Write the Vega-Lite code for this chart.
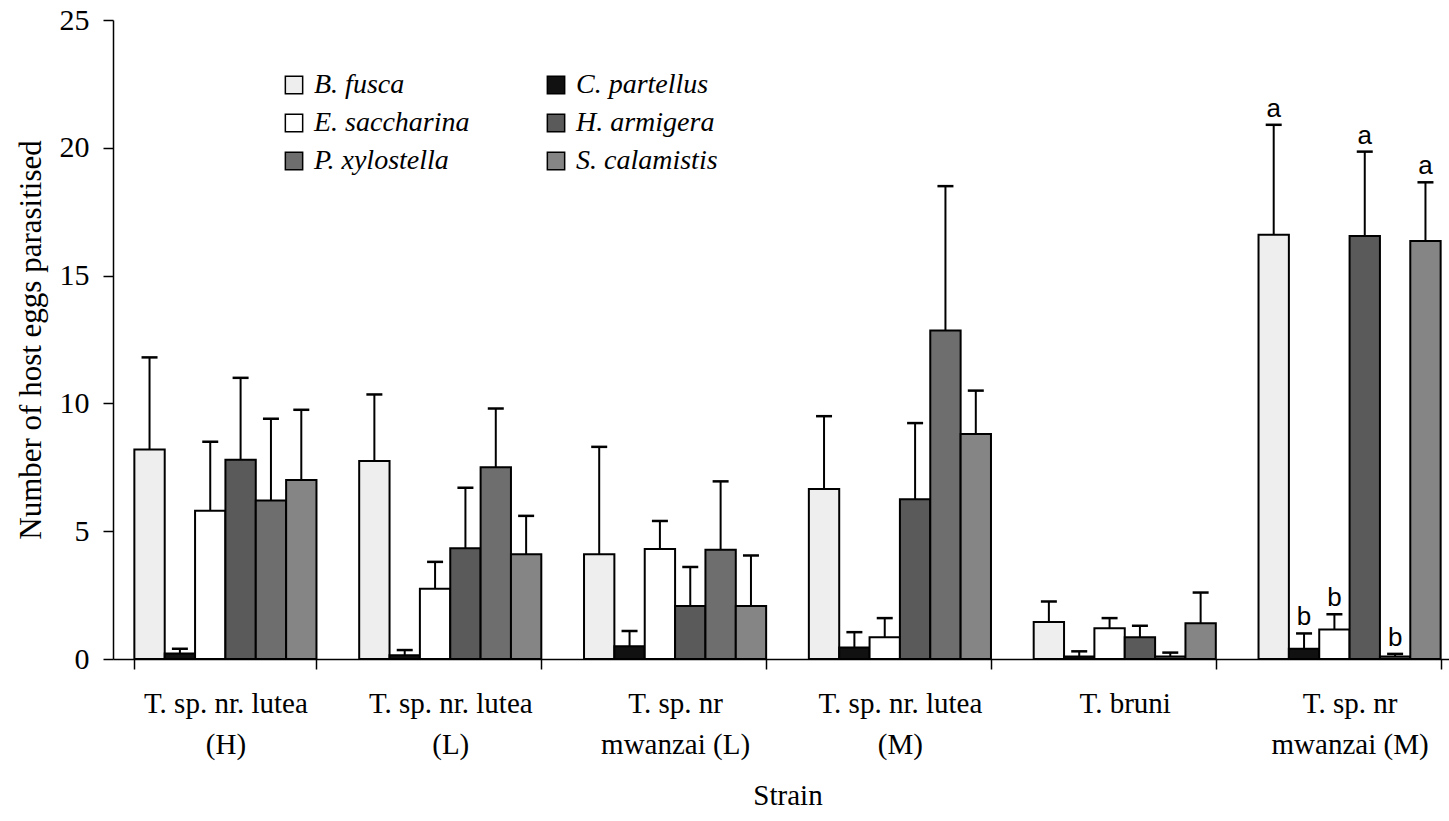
{
  "$schema": "https://vega.github.io/schema/vega-lite/v6.json",
  "width": 1349,
  "height": 639,
  "autosize": {"type": "none"},
  "padding": {"left": 113, "top": 20, "right": 0, "bottom": 162},
  "background": "white",
  "config": {
    "view": {"stroke": null},
    "font": "Liberation Serif",
    "axis": {"domainColor": "black", "tickColor": "black", "labelColor": "black", "titleColor": "black", "grid": false}
  },
  "data": {
    "values": [
      {"strain": "T. sp. nr. lutea|(H)", "host": "B. fusca", "mean": 8.2, "upper": 11.8, "letter": ""},
      {"strain": "T. sp. nr. lutea|(H)", "host": "C. partellus", "mean": 0.22, "upper": 0.4, "letter": ""},
      {"strain": "T. sp. nr. lutea|(H)", "host": "E. saccharina", "mean": 5.8, "upper": 8.5, "letter": ""},
      {"strain": "T. sp. nr. lutea|(H)", "host": "H. armigera", "mean": 7.8, "upper": 11.0, "letter": ""},
      {"strain": "T. sp. nr. lutea|(H)", "host": "P. xylostella", "mean": 6.2, "upper": 9.4, "letter": ""},
      {"strain": "T. sp. nr. lutea|(H)", "host": "S. calamistis", "mean": 7.0, "upper": 9.75, "letter": ""},
      {"strain": "T. sp. nr. lutea|(L)", "host": "B. fusca", "mean": 7.75, "upper": 10.35, "letter": ""},
      {"strain": "T. sp. nr. lutea|(L)", "host": "C. partellus", "mean": 0.15, "upper": 0.35, "letter": ""},
      {"strain": "T. sp. nr. lutea|(L)", "host": "E. saccharina", "mean": 2.75, "upper": 3.8, "letter": ""},
      {"strain": "T. sp. nr. lutea|(L)", "host": "H. armigera", "mean": 4.33, "upper": 6.7, "letter": ""},
      {"strain": "T. sp. nr. lutea|(L)", "host": "P. xylostella", "mean": 7.5, "upper": 9.8, "letter": ""},
      {"strain": "T. sp. nr. lutea|(L)", "host": "S. calamistis", "mean": 4.1, "upper": 5.6, "letter": ""},
      {"strain": "T. sp. nr|mwanzai (L)", "host": "B. fusca", "mean": 4.1, "upper": 8.3, "letter": ""},
      {"strain": "T. sp. nr|mwanzai (L)", "host": "C. partellus", "mean": 0.5, "upper": 1.1, "letter": ""},
      {"strain": "T. sp. nr|mwanzai (L)", "host": "E. saccharina", "mean": 4.3, "upper": 5.4, "letter": ""},
      {"strain": "T. sp. nr|mwanzai (L)", "host": "H. armigera", "mean": 2.07, "upper": 3.6, "letter": ""},
      {"strain": "T. sp. nr|mwanzai (L)", "host": "P. xylostella", "mean": 4.27, "upper": 6.95, "letter": ""},
      {"strain": "T. sp. nr|mwanzai (L)", "host": "S. calamistis", "mean": 2.07, "upper": 4.05, "letter": ""},
      {"strain": "T. sp. nr. lutea|(M)", "host": "B. fusca", "mean": 6.65, "upper": 9.5, "letter": ""},
      {"strain": "T. sp. nr. lutea|(M)", "host": "C. partellus", "mean": 0.45, "upper": 1.05, "letter": ""},
      {"strain": "T. sp. nr. lutea|(M)", "host": "E. saccharina", "mean": 0.85, "upper": 1.6, "letter": ""},
      {"strain": "T. sp. nr. lutea|(M)", "host": "H. armigera", "mean": 6.25, "upper": 9.23, "letter": ""},
      {"strain": "T. sp. nr. lutea|(M)", "host": "P. xylostella", "mean": 12.85, "upper": 18.5, "letter": ""},
      {"strain": "T. sp. nr. lutea|(M)", "host": "S. calamistis", "mean": 8.8, "upper": 10.5, "letter": ""},
      {"strain": "T. bruni", "host": "B. fusca", "mean": 1.45, "upper": 2.25, "letter": ""},
      {"strain": "T. bruni", "host": "C. partellus", "mean": 0.1, "upper": 0.3, "letter": ""},
      {"strain": "T. bruni", "host": "E. saccharina", "mean": 1.2, "upper": 1.6, "letter": ""},
      {"strain": "T. bruni", "host": "H. armigera", "mean": 0.85, "upper": 1.3, "letter": ""},
      {"strain": "T. bruni", "host": "P. xylostella", "mean": 0.1, "upper": 0.25, "letter": ""},
      {"strain": "T. bruni", "host": "S. calamistis", "mean": 1.4, "upper": 2.6, "letter": ""},
      {"strain": "T. sp. nr|mwanzai (M)", "host": "B. fusca", "mean": 16.6, "upper": 20.9, "letter": "a"},
      {"strain": "T. sp. nr|mwanzai (M)", "host": "C. partellus", "mean": 0.4, "upper": 1.0, "letter": "b"},
      {"strain": "T. sp. nr|mwanzai (M)", "host": "E. saccharina", "mean": 1.15, "upper": 1.75, "letter": "b"},
      {"strain": "T. sp. nr|mwanzai (M)", "host": "H. armigera", "mean": 16.55, "upper": 19.85, "letter": "a"},
      {"strain": "T. sp. nr|mwanzai (M)", "host": "P. xylostella", "mean": 0.1, "upper": 0.2, "letter": "b"},
      {"strain": "T. sp. nr|mwanzai (M)", "host": "S. calamistis", "mean": 16.35, "upper": 18.65, "letter": "a"}
    ]
  },
  "encoding": {
    "x": {
      "field": "strain",
      "type": "nominal",
      "sort": ["T. sp. nr. lutea|(H)", "T. sp. nr. lutea|(L)", "T. sp. nr|mwanzai (L)", "T. sp. nr. lutea|(M)", "T. bruni", "T. sp. nr|mwanzai (M)"],
      "scale": {"paddingInner": 0.19, "paddingOuter": 0.095},
      "axis": {
        "title": "Strain",
        "labelExpr": "split(datum.label, '|')",
        "labelAngle": 0,
        "labelFont": "Liberation Serif",
        "labelFontSize": 29,
        "labelLineHeight": 41,
        "labelBaseline": "top",
        "tickBand": "extent",
        "tickSize": 10,
        "labelPadding": 20,
        "domainWidth": 1.5,
        "tickWidth": 1.5,
        "titleFont": "Liberation Serif",
        "titleFontSize": 29,
        "titleFontWeight": "normal",
        "titlePadding": 22
      }
    },
    "xOffset": {"field": "host", "type": "nominal", "scale": {"paddingInner": 0, "paddingOuter": 0}}
  },
  "layer": [
    {
      "mark": {"type": "bar", "stroke": "black", "strokeWidth": 2},
      "encoding": {
        "y": {
          "field": "mean",
          "type": "quantitative",
          "scale": {"domain": [0, 25], "nice": false},
          "axis": {
            "title": "Number of host eggs parasitised",
            "values": [0, 5, 10, 15, 20, 25],
            "tickSize": 10,
            "tickWidth": 1.5,
            "domainWidth": 1.5,
            "labelFont": "Liberation Serif",
            "labelFontSize": 30,
            "labelPadding": 14,
            "titleFont": "Liberation Serif",
            "titleFontSize": 31,
            "titleFontWeight": "normal",
            "titlePadding": 12
          }
        },
        "fill": {
          "field": "host",
          "type": "nominal",
          "scale": {
            "domain": ["B. fusca", "E. saccharina", "P. xylostella", "C. partellus", "H. armigera", "S. calamistis"],
            "range": ["#eeeeee", "#ffffff", "#6e6e6e", "#111111", "#5a5a5a", "#858585"]
          },
          "legend": {
            "title": null,
            "orient": "none",
            "legendX": 167,
            "legendY": 51,
            "columns": 2,
            "columnPadding": 72,
            "rowPadding": 10,
            "symbolType": "square",
            "symbolSize": 300,
            "symbolStrokeColor": "black",
            "symbolStrokeWidth": 1.5,
            "symbolOpacity": 1,
            "labelFont": "Liberation Serif",
            "labelFontSize": 28,
            "labelFontStyle": "italic",
            "labelColor": "black",
            "labelOffset": 6,
            "labelLimit": 300
          }
        }
      }
    },
    {
      "mark": {"type": "rule", "strokeWidth": 2, "color": "black"},
      "encoding": {
        "y": {"field": "mean", "type": "quantitative"},
        "y2": {"field": "upper"}
      }
    },
    {
      "mark": {"type": "tick", "size": 16, "thickness": 2.5, "color": "black", "opacity": 1},
      "encoding": {
        "y": {"field": "upper", "type": "quantitative"}
      }
    },
    {
      "transform": [{"filter": "datum.letter != ''"}],
      "mark": {"type": "text", "font": "Liberation Sans", "fontSize": 26, "baseline": "alphabetic", "dy": -8, "color": "black"},
      "encoding": {
        "y": {"field": "upper", "type": "quantitative"},
        "text": {"field": "letter"}
      }
    }
  ]
}
